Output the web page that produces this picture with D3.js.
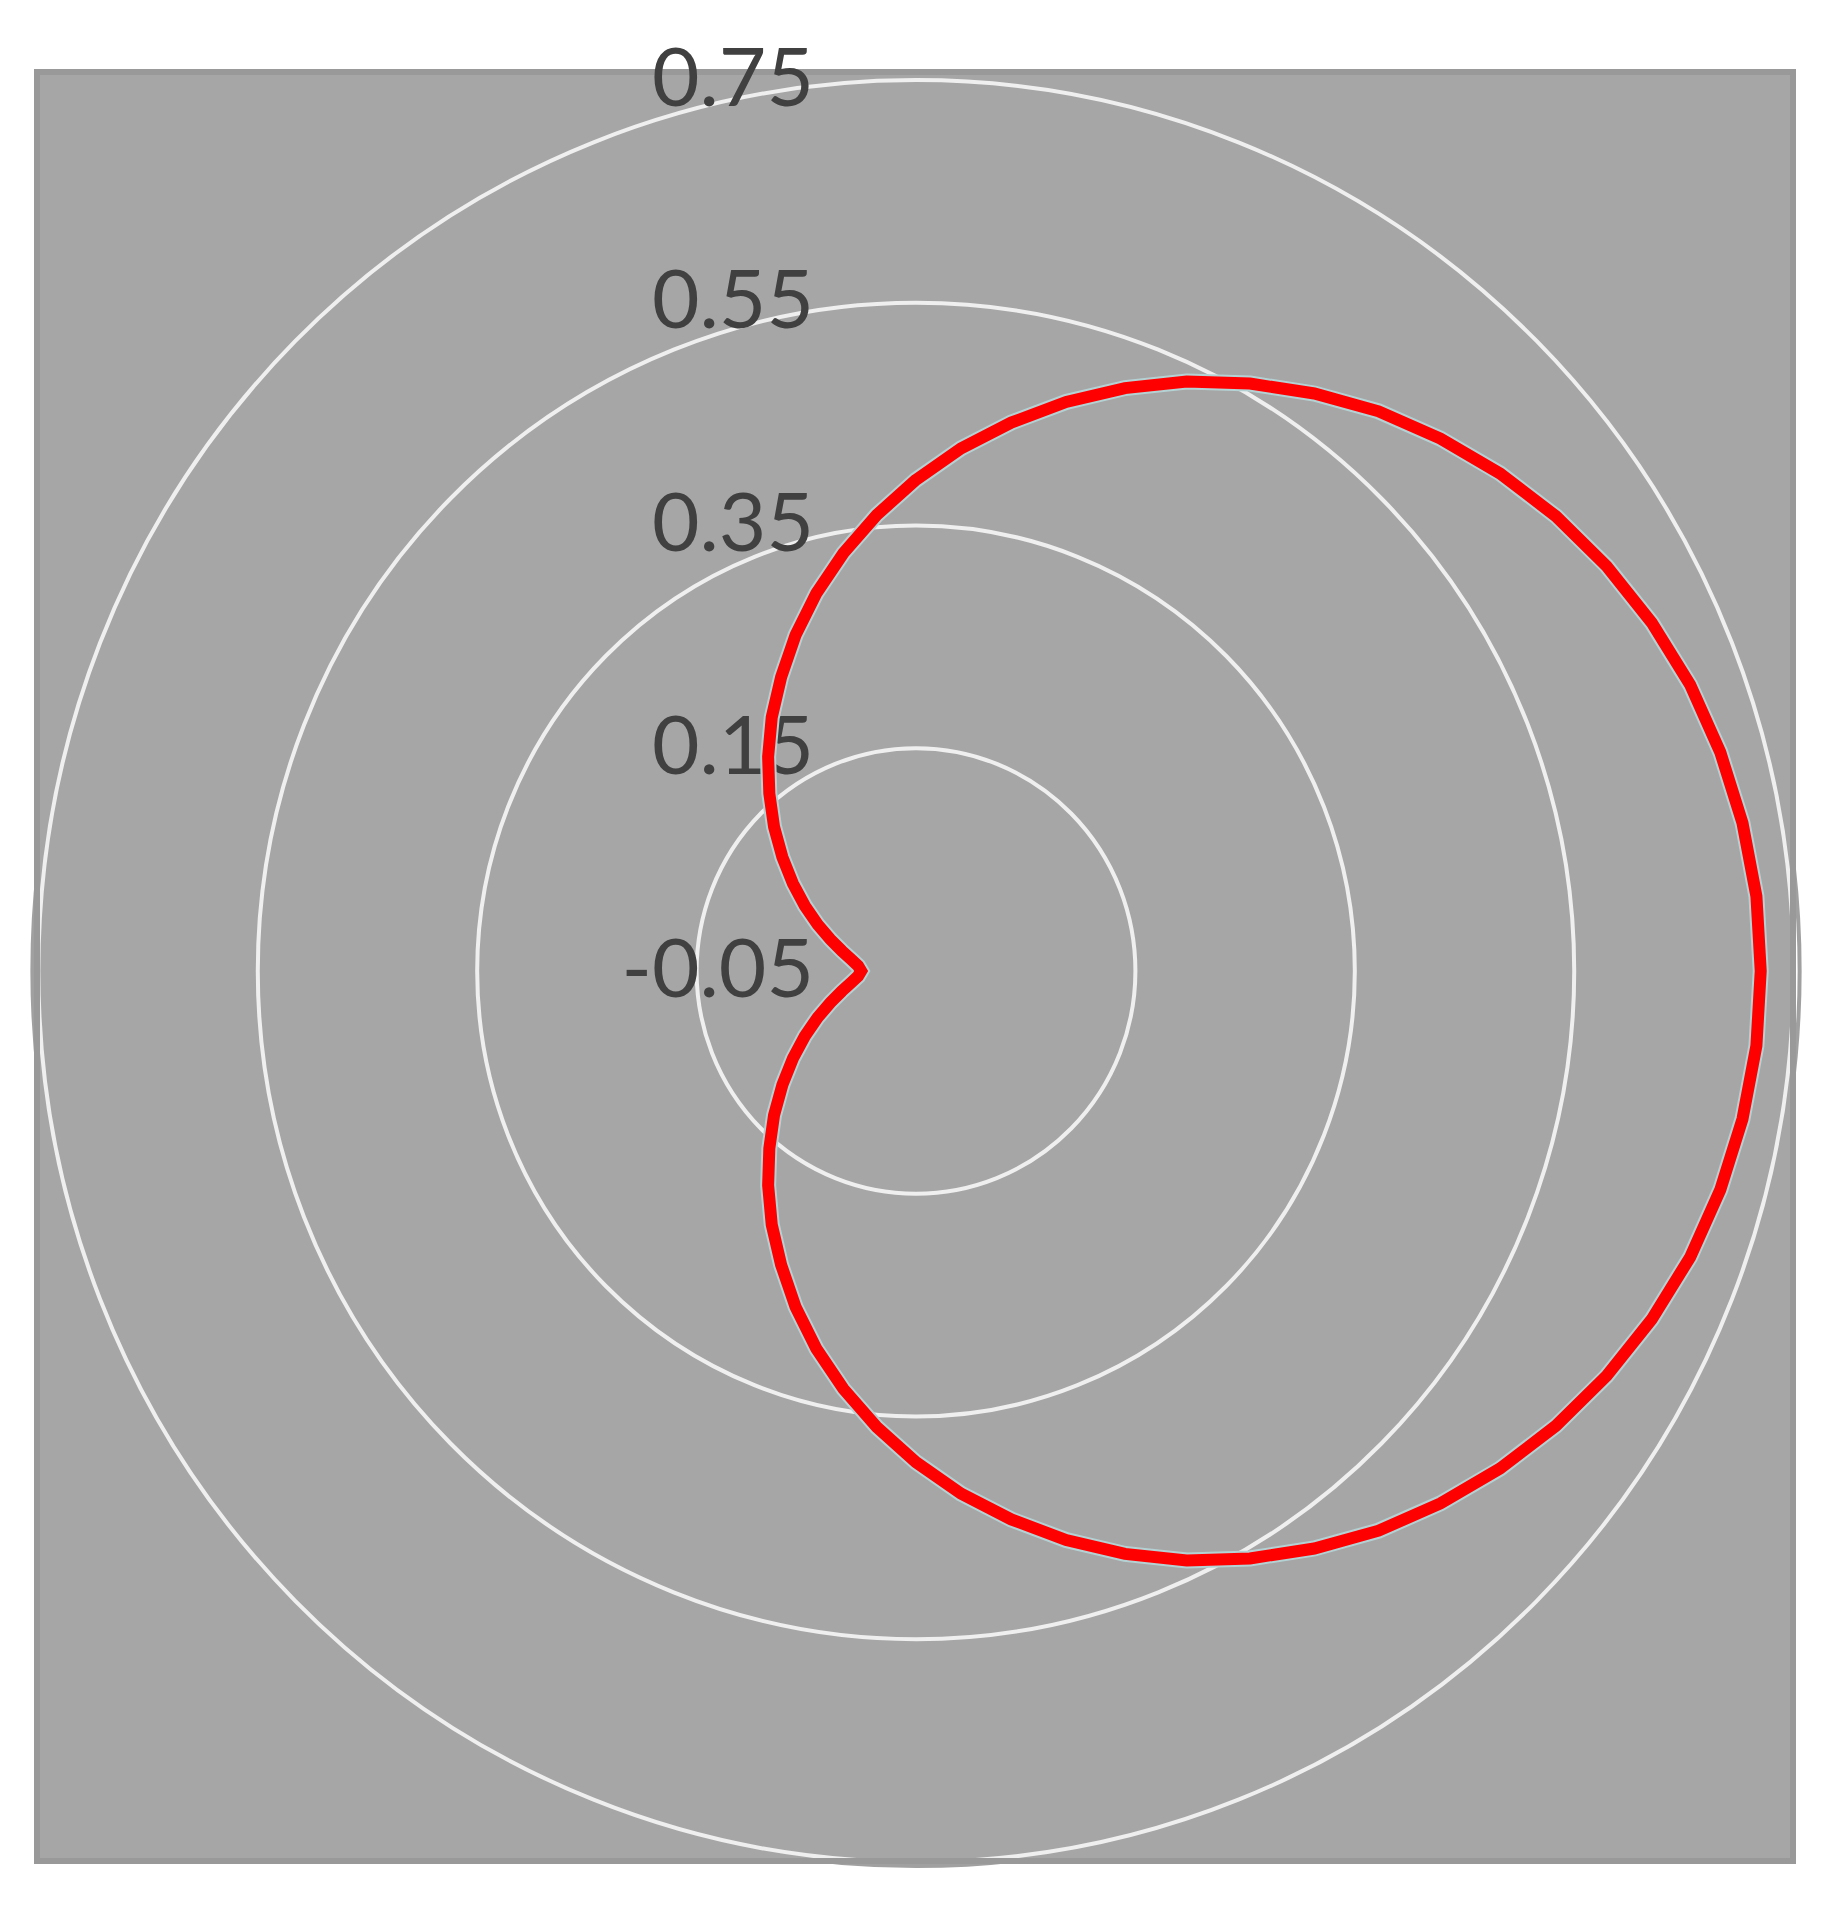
<html>
<head>
    <title>Radar</title>
    <script src="https://d3js.org/d3.v7.min.js"></script>
    <style>
        body { margin:0; background:#fff; }
        text.tick { font-family: Lato, "Open Sans", sans-serif; fill:#404040; }
    </style>
</head>
<body>
    <svg id="chart" width="1836" height="1919"></svg>

    <script>
        // angle of each category, degrees clockwise from the top
        var angles = [0,5,10,15,20,25,30,35,40,45,50,55,60,65,70,75,80,85,
                      90,95,100,105,110,115,120,125,130,135,140,145,150,155,160,165,170,175,
                      180,185,190,195,200,205,210,215,220,225,230,235,240,245,250,255,260,265,
                      270,275,280,285,290,295,300,305,310,315,320,325,330,335,340,345,350,355];

        // series values
        var values = [0.391,0.421,0.450,0.479,0.507,0.534,0.559,0.583,0.606,0.626,0.645,0.662,0.677,0.690,0.701,0.709,0.715,0.719,
                      0.720,0.719,0.715,0.709,0.701,0.690,0.677,0.662,0.645,0.626,0.606,0.583,0.559,0.534,0.507,0.479,0.450,0.421,
                      0.391,0.361,0.331,0.301,0.271,0.241,0.213,0.185,0.158,0.133,0.109,0.087,0.067,0.049,0.033,0.020,0.010,0.003,
                      0.000,0.003,0.010,0.020,0.033,0.049,0.067,0.087,0.109,0.133,0.158,0.185,0.213,0.241,0.271,0.301,0.331,0.361];

        var ticks = [-0.05, 0.15, 0.35, 0.55, 0.75];
        var tickLabels = ["-0.05", "0.15", "0.35", "0.55", "0.75"];

        var svg = d3.select("#chart");
        var plot = {x:37, y:72, w:1756, h:1789};
        var cx = 916, cy = 971;
        var xStretch = 0.985;

        var rScale = d3.scaleLinear().domain([-0.05, 0.75]).range([0, 891]);
        var aScale = d3.scaleLinear().domain([0, 360]).range([0, 2 * Math.PI]);

        svg.append("clipPath").attr("id", "plotclip")
            .append("rect")
            .attr("x", plot.x + 3).attr("y", plot.y + 3)
            .attr("width", plot.w - 6).attr("height", plot.h - 6);

        // outer ring peeking past the plot border
        svg.append("ellipse")
            .attr("cx", cx).attr("cy", cy)
            .attr("rx", rScale(0.75) * xStretch + 6).attr("ry", rScale(0.75) + 4)
            .style("fill", "none").style("stroke", "#a0a0a0").style("stroke-width", 4);

        svg.append("rect")
            .attr("x", plot.x).attr("y", plot.y)
            .attr("width", plot.w).attr("height", plot.h)
            .style("fill", "#a6a6a6")
            .style("stroke", "#999999")
            .style("stroke-width", 6);

        var g = svg.append("g").attr("clip-path", "url(#plotclip)")
            .append("g")
            .attr("transform", "translate(" + cx + "," + cy + ") scale(" + xStretch + ",1)");

        g.selectAll("circle.ring")
            .data(ticks.filter(function(t){ return rScale(t) > 0; }))
            .enter().append("circle")
            .attr("class", "ring")
            .attr("r", function(d){ return rScale(d); })
            .attr("vector-effect", "non-scaling-stroke")
            .style("fill", "none")
            .style("stroke", "#efefef")
            .style("stroke-width", 4);

        svg.selectAll("text.tick")
            .data(ticks)
            .enter().append("text")
            .attr("class", "tick")
            .attr("x", 814)
            .attr("y", function(d){ return cy - rScale(d) - 3; })
            .attr("dy", "0.35em")
            .attr("text-anchor", "end")
            .style("font-size", "82px")
            .text(function(d, i){ return tickLabels[i]; });

        var radial = d3.lineRadial()
            .angle(function(d, i){ return aScale(angles[i]); })
            .radius(function(d){ return rScale(d); })
            .curve(d3.curveLinearClosed);

        var curveG = svg.append("g")
            .attr("transform", "translate(" + cx + "," + cy + ") scale(" + xStretch + ",1)");

        curveG.append("path")
            .attr("d", radial(values))
            .attr("vector-effect", "non-scaling-stroke")
            .style("fill", "none")
            .style("stroke", "#b4d2d4")
            .style("stroke-width", 16)
            .style("stroke-linejoin", "miter");

        curveG.append("path")
            .attr("d", radial(values))
            .attr("vector-effect", "non-scaling-stroke")
            .style("fill", "none")
            .style("stroke", "#ff0000")
            .style("stroke-width", 12)
            .style("stroke-linejoin", "miter");
    </script>
</body>
</html>
